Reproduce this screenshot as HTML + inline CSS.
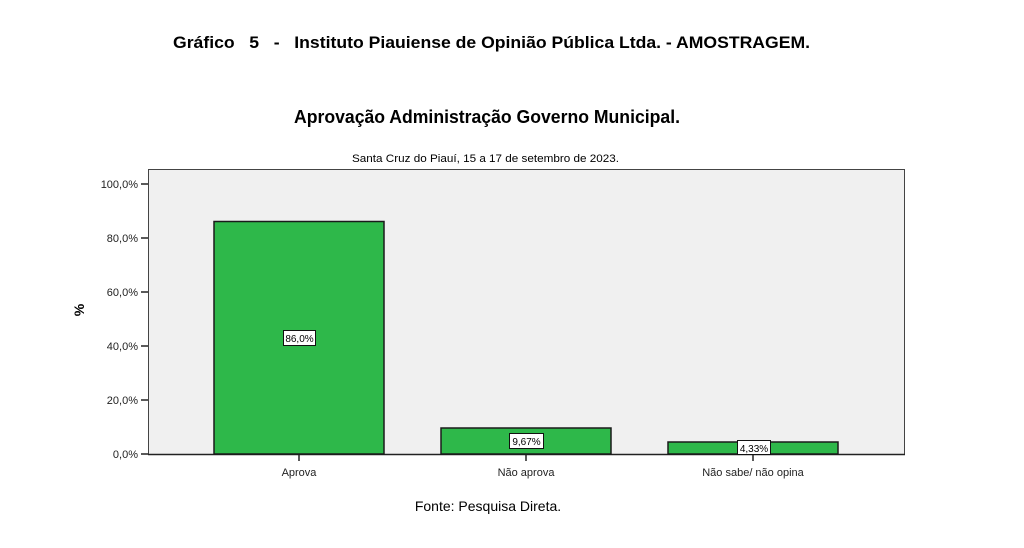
<!DOCTYPE html>
<html><head><meta charset="utf-8"><style>
html,body{margin:0;padding:0;background:#fff;}
svg{display:block;font-family:"Liberation Sans",Arial,sans-serif;}
</style></head><body>
<svg width="1024" height="548" viewBox="0 0 1024 548" xmlns="http://www.w3.org/2000/svg">
<rect width="1024" height="548" fill="#fff"/>
<text x="173" y="48" font-size="17" font-weight="bold" textLength="637" lengthAdjust="spacingAndGlyphs" style="white-space:pre" xml:space="preserve">Gráfico   5   -   Instituto Piauiense de Opinião Pública Ltda. - AMOSTRAGEM.</text>
<text x="294" y="123" font-size="18" font-weight="bold" textLength="386" lengthAdjust="spacingAndGlyphs">Aprovação Administração Governo Municipal.</text>
<text x="352" y="162" font-size="11" textLength="267" lengthAdjust="spacingAndGlyphs">Santa Cruz do Piauí, 15 a 17 de setembro de 2023.</text>
<rect x="148.5" y="169.5" width="756" height="285" fill="#f0f0f0" stroke="#444" stroke-width="1"/>
<g stroke="#222" stroke-width="1.5">
<line x1="141" y1="184" x2="148" y2="184"/><line x1="141" y1="238" x2="148" y2="238"/>
<line x1="141" y1="292" x2="148" y2="292"/><line x1="141" y1="346" x2="148" y2="346"/>
<line x1="141" y1="400" x2="148" y2="400"/><line x1="141" y1="454" x2="148" y2="454"/>
<line x1="299" y1="454" x2="299" y2="461"/><line x1="526" y1="454" x2="526" y2="461"/><line x1="753" y1="454" x2="753" y2="461"/>
</g>
<line x1="148" y1="454.5" x2="905" y2="454.5" stroke="#222" stroke-width="1.5"/>
<g font-size="11" text-anchor="end" fill="#222">
<text x="138" y="188">100,0%</text><text x="138" y="242">80,0%</text><text x="138" y="296">60,0%</text>
<text x="138" y="350">40,0%</text><text x="138" y="404">20,0%</text><text x="138" y="458">0,0%</text>
</g>
<text transform="translate(84,310) rotate(-90)" font-size="14" font-weight="bold" text-anchor="middle">%</text>
<g fill="#2eb84a" stroke="#1a1a1a" stroke-width="1.5">
<rect x="214" y="221.5" width="170" height="232.5"/>
<rect x="441" y="428" width="170" height="26"/>
<rect x="668" y="442" width="170" height="12"/>
</g>
<g font-size="10" text-anchor="middle">
<rect x="283.5" y="330.5" width="32" height="15" fill="#fff" stroke="#111"/><text x="299.5" y="342">86,0%</text>
<rect x="509.5" y="433.5" width="34" height="15" fill="#fff" stroke="#111"/><text x="526.5" y="445">9,67%</text>
<rect x="737.5" y="440.5" width="33" height="14" fill="#fff" stroke="#111"/><text x="754" y="452">4,33%</text>
</g>
<g font-size="11" text-anchor="middle" fill="#222">
<text x="299" y="476">Aprova</text><text x="526" y="476">Não aprova</text><text x="753" y="476">Não sabe/ não opina</text>
</g>
<text x="488" y="511" font-size="14" text-anchor="middle">Fonte: Pesquisa Direta.</text>
</svg>
</body></html>
